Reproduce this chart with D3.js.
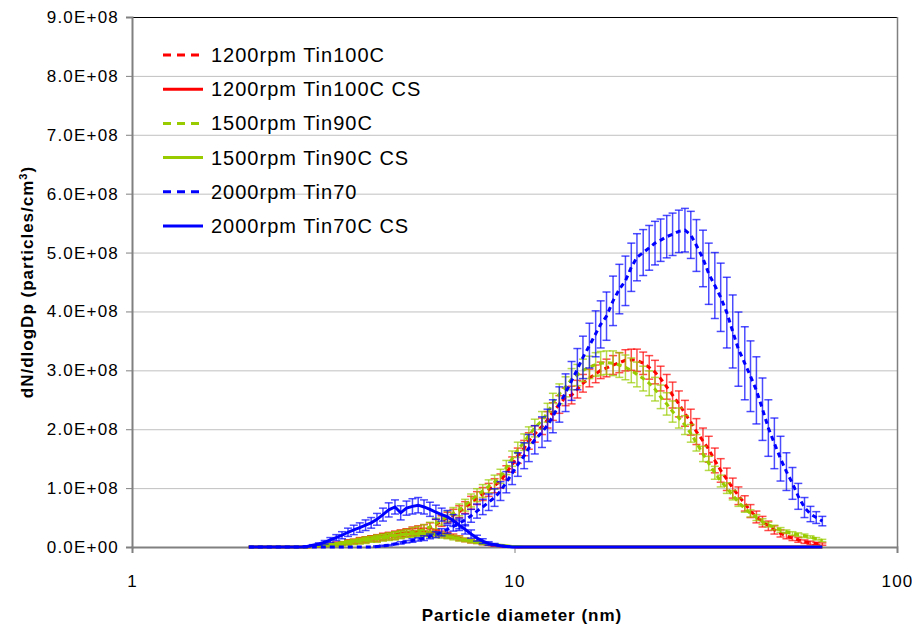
<!DOCTYPE html>
<html>
<head>
<meta charset="utf-8">
<script src="https://cdnjs.cloudflare.com/ajax/libs/d3/7.8.5/d3.min.js"></script>
<style>
    body { margin: 0; background: #fff; }
    #visual { width: 912px; height: 626px; }
    text { font-family: "Liberation Sans", Arial, sans-serif; fill: #000; }
</style>
</head>
<body>
<div id="visual"></div>
<script>
// SMPS channel mid-point diameters (nm)
var diameters = [
    2.02, 2.09, 2.16, 2.24, 2.32, 2.40, 2.49, 2.58, 2.67, 2.77,
    2.87, 2.97, 3.08, 3.19, 3.30, 3.42, 3.54, 3.67, 3.80, 3.94,
    4.08, 4.22, 4.37, 4.53, 4.69, 4.87, 5.04, 5.22, 5.41, 5.60,
    5.80, 6.01, 6.23, 6.45, 6.68, 6.92, 7.17, 7.43, 7.70, 7.98,
    8.26, 8.56, 8.87, 9.19, 9.52, 9.86, 10.2, 10.6, 10.9, 11.3,
    11.8, 12.2, 12.6, 13.1, 13.6, 14.1, 14.6, 15.1, 15.7, 16.3,
    16.8, 17.4, 18.1, 18.8, 19.5, 20.2, 20.9, 21.7, 22.5, 23.3,
    24.1, 25.0, 25.9, 26.9, 27.9, 28.9, 29.9, 31.1, 32.2, 33.4,
    34.6, 35.9, 37.2, 38.5, 40.0, 41.4, 42.9, 44.5, 46.1, 47.8,
    49.6, 51.4, 53.3, 55.2, 57.3, 59.4, 61.5, 63.8
];

// dN/dlogDp, in 1e6 particles/cm3
var tin100 = [
    0, 0, 0, 0, 0, 0, 0, 0, 0, 0,
    0, 1, 2, 3, 4, 5, 6, 8, 9, 11,
    12, 14, 15, 17, 18, 20, 22, 24, 26, 28,
    30, 33, 38, 44, 50, 54, 60, 67, 75, 83,
    90, 97, 104, 112, 126, 140, 155, 168, 180, 192,
    205, 216, 230, 242, 255, 258, 268, 278, 287, 294,
    300, 304, 309, 313, 317, 318, 317, 312, 305, 297,
    286, 272, 258, 243, 227, 212, 196, 180, 166, 147,
    130, 115, 100, 87, 74, 61, 51, 43, 36, 29,
    23, 19, 15, 12, 9, 7, 6, 5
];
var tin100Err = [
    0, 0, 0, 0, 0, 0, 0, 0, 0, 0,
    0, 1, 1, 2, 2, 3, 3, 4, 4, 5,
    5, 5, 6, 6, 6, 7, 7, 7, 8, 8,
    8, 8, 9, 9, 9, 10, 10, 10, 11, 11,
    11, 11, 12, 12, 12, 13, 13, 13, 14, 14,
    14, 14, 15, 15, 15, 15, 15, 15, 15, 15,
    14, 15, 16, 17, 18, 18, 19, 19, 20, 20,
    21, 21, 22, 22, 22, 22, 22, 22, 22, 21,
    20, 19, 17, 15, 13, 11, 10, 9, 8, 7,
    6, 5, 4, 4, 3, 3, 2, 2
];
var tin100CS = [
    0, 0, 0, 0, 0, 0, 0, 0, 0, 0,
    0, 1, 2, 3, 4, 6, 7, 9, 10, 12,
    13, 15, 16, 18, 20, 21, 23, 24, 25, 26,
    26, 25, 24, 22, 20, 18, 15, 12, 10, 8,
    6, 4, 3, 2, 1, 1, 0, 0, 0, 0,
    0, 0, 0, 0, 0, 0, 0, 0, 0, 0,
    0, 0, 0, 0, 0, 0, 0, 0, 0, 0,
    0, 0, 0, 0, 0, 0, 0, 0, 0, 0,
    0, 0, 0, 0, 0, 0, 0, 0, 0, 0,
    0, 0, 0, 0, 0, 0, 0, 0
];
var tin100CSErr = [
    0, 0, 0, 0, 0, 0, 0, 0, 0, 0,
    0, 1, 1, 1, 2, 2, 2, 3, 3, 3,
    4, 4, 4, 5, 5, 5, 5, 6, 6, 6,
    6, 6, 5, 5, 5, 4, 4, 3, 3, 2,
    2, 1, 1, 1, 0, 0, 0, 0, 0, 0,
    0, 0, 0, 0, 0, 0, 0, 0, 0, 0,
    0, 0, 0, 0, 0, 0, 0, 0, 0, 0,
    0, 0, 0, 0, 0, 0, 0, 0, 0, 0,
    0, 0, 0, 0, 0, 0, 0, 0, 0, 0,
    0, 0, 0, 0, 0, 0, 0, 0
];
var tin90 = [
    0, 0, 0, 0, 0, 0, 0, 0, 0, 0,
    0, 1, 2, 3, 3, 4, 5, 7, 8, 10,
    11, 13, 14, 16, 17, 19, 21, 23, 25, 27,
    30, 34, 40, 46, 52, 57, 63, 71, 79, 88,
    95, 103, 110, 120, 135, 150, 165, 178, 190, 202,
    215, 228, 245, 260, 272, 285, 292, 300, 305, 310,
    312, 313, 312, 309, 305, 300, 293, 286, 278, 268,
    255, 243, 230, 219, 207, 193, 177, 158, 142, 126,
    112, 100, 88, 76, 65, 57, 50, 43, 38, 33,
    29, 26, 23, 21, 19, 17, 14, 11
];
var tin90Err = [
    0, 0, 0, 0, 0, 0, 0, 0, 0, 0,
    0, 1, 1, 2, 2, 3, 3, 4, 4, 5,
    5, 5, 6, 6, 6, 7, 7, 7, 8, 8,
    8, 8, 9, 9, 9, 10, 10, 10, 11, 11,
    11, 11, 12, 12, 12, 13, 13, 14, 14, 15,
    15, 16, 16, 17, 17, 18, 18, 19, 19, 20,
    20, 20, 21, 21, 21, 21, 21, 21, 21, 20,
    20, 19, 18, 17, 16, 15, 14, 13, 12, 11,
    10, 9, 8, 7, 6, 6, 5, 5, 4, 4,
    4, 3, 3, 3, 3, 2, 2, 2
];
var tin90CS = [
    0, 0, 0, 0, 0, 0, 0, 0, 0, 0,
    0, 1, 2, 3, 4, 5, 7, 8, 10, 11,
    13, 14, 16, 17, 19, 20, 21, 22, 22, 23,
    23, 22, 21, 20, 18, 16, 14, 12, 10, 8,
    6, 5, 4, 3, 2, 1, 1, 0, 0, 0,
    0, 0, 0, 0, 0, 0, 0, 0, 0, 0,
    0, 0, 0, 0, 0, 0, 0, 0, 0, 0,
    0, 0, 0, 0, 0, 0, 0, 0, 0, 0,
    0, 0, 0, 0, 0, 0, 0, 0, 0, 0,
    0, 0, 0, 0, 0, 0, 0, 0
];
var tin90CSErr = [
    0, 0, 0, 0, 0, 0, 0, 0, 0, 0,
    0, 1, 1, 1, 2, 2, 2, 3, 3, 3,
    4, 4, 4, 4, 5, 5, 5, 5, 5, 5,
    5, 5, 5, 5, 4, 4, 4, 3, 3, 2,
    2, 1, 1, 1, 0, 0, 0, 0, 0, 0,
    0, 0, 0, 0, 0, 0, 0, 0, 0, 0,
    0, 0, 0, 0, 0, 0, 0, 0, 0, 0,
    0, 0, 0, 0, 0, 0, 0, 0, 0, 0,
    0, 0, 0, 0, 0, 0, 0, 0, 0, 0,
    0, 0, 0, 0, 0, 0, 0, 0
];
var tin70 = [
    0, 0, 0, 0, 0, 0, 0, 0, 0, 0,
    0, 0, 0, 0, 0, 0, 0, 0, 0, 0,
    0, 0, 1, 2, 3, 5, 7, 9, 11, 13,
    15, 18, 21, 25, 30, 35, 40, 46, 53, 61,
    68, 76, 84, 95, 110, 125, 140, 155, 168, 182,
    195, 207, 222, 242, 262, 282, 302, 322, 342, 362,
    378, 392, 418, 438, 452, 475, 492, 500, 508, 516,
    521, 527, 531, 536, 538, 530, 512, 490, 464, 444,
    424, 398, 366, 336, 312, 290, 266, 234, 202, 176,
    150, 128, 108, 86, 67, 56, 50, 44
];
var tin70Err = [
    0, 0, 0, 0, 0, 0, 0, 0, 0, 0,
    0, 0, 0, 0, 0, 0, 0, 0, 0, 0,
    0, 0, 1, 1, 1, 1, 2, 2, 3, 3,
    4, 4, 5, 6, 7, 8, 9, 10, 11, 12,
    13, 14, 15, 16, 18, 19, 20, 22, 23, 24,
    26, 27, 28, 30, 32, 33, 35, 36, 38, 39,
    40, 41, 42, 42, 42, 41, 40, 39, 38, 37,
    36, 36, 36, 36, 37, 40, 44, 48, 52, 56,
    58, 60, 62, 63, 62, 60, 57, 53, 48, 43,
    38, 32, 27, 22, 17, 13, 10, 8
];
var tin70CS = [
    0, 0, 0, 0, 0, 0, 0, 0, 0, 0,
    1, 3, 5, 8, 12, 16, 20, 25, 29, 33,
    37, 41, 47, 55, 63, 68, 58, 66, 69, 71,
    68, 64, 59, 55, 51, 45, 37, 30, 22, 15,
    10, 6, 4, 2, 1, 0, 0, 0, 0, 0,
    0, 0, 0, 0, 0, 0, 0, 0, 0, 0,
    0, 0, 0, 0, 0, 0, 0, 0, 0, 0,
    0, 0, 0, 0, 0, 0, 0, 0, 0, 0,
    0, 0, 0, 0, 0, 0, 0, 0, 0, 0,
    0, 0, 0, 0, 0, 0, 0, 0
];
var tin70CSErr = [
    0, 0, 0, 0, 0, 0, 0, 0, 0, 0,
    1, 1, 2, 3, 4, 5, 6, 7, 8, 8,
    9, 9, 10, 11, 12, 12, 12, 12, 13, 13,
    12, 12, 12, 11, 11, 10, 9, 8, 7, 5,
    4, 3, 2, 1, 1, 0, 0, 0, 0, 0,
    0, 0, 0, 0, 0, 0, 0, 0, 0, 0,
    0, 0, 0, 0, 0, 0, 0, 0, 0, 0,
    0, 0, 0, 0, 0, 0, 0, 0, 0, 0,
    0, 0, 0, 0, 0, 0, 0, 0, 0, 0,
    0, 0, 0, 0, 0, 0, 0, 0
];

var seriesNames = ['1200rpm Tin100C', '1200rpm Tin100C CS', '1500rpm Tin90C',
    '1500rpm Tin90C CS', '2000rpm Tin70', '2000rpm Tin70C CS'];
var seriesValues = [tin100, tin100CS, tin90, tin90CS, tin70, tin70CS];
var seriesErrors = [tin100Err, tin100CSErr, tin90Err, tin90CSErr, tin70Err, tin70CSErr];
var seriesColours = ['#ff0000', '#ff0000', '#99cc00', '#99cc00', '#0000ff', '#0000ff'];
var seriesDashed = [true, false, true, false, true, false];

var yTicks = [0, 1e8, 2e8, 3e8, 4e8, 5e8, 6e8, 7e8, 8e8, 9e8];
var xTicks = [1, 10, 100];

var width = 912, height = 626;
var margin = { top: 17, right: 15, bottom: 79, left: 132 };
var plotW = width - margin.left - margin.right;
var plotH = height - margin.top - margin.bottom;

var svg = d3.select('#visual')
    .append('svg')
    .attr('width', width)
    .attr('height', height)
    .append('g')
    .attr('transform', 'translate(' + margin.left + ',' + margin.top + ')');

var x_scale = d3.scaleLog().domain([1, 100]).range([0, plotW]);
var y_scale = d3.scaleLinear().domain([0, 9e8]).range([plotH, 0]);

function sciFormat(v) {
    if (v === 0) return '0.0E+00';
    var e = Math.floor(Math.log10(v) + 1e-9);
    var m = v / Math.pow(10, e);
    return m.toFixed(1) + 'E+' + (e < 10 ? '0' : '') + e;
}

// gridlines
svg.append('g')
    .attr('class', 'grid')
    .call(d3.axisLeft(y_scale).tickValues(yTicks).tickSize(-plotW).tickFormat(''))
    .call(function (g) {
        g.select('.domain').remove();
        g.selectAll('line').attr('stroke', '#c0c0c0').attr('stroke-width', 1);
    });

// plot frame top / right
svg.append('line').attr('x1', 0).attr('x2', plotW).attr('y1', 0.5).attr('y2', 0.5)
    .attr('stroke', '#000').attr('stroke-width', 1);
svg.append('line').attr('x1', plotW + 0.5).attr('x2', plotW + 0.5).attr('y1', 0).attr('y2', plotH)
    .attr('stroke', '#808080').attr('stroke-width', 1.5);

// y axis
svg.append('g')
    .attr('class', 'y axis')
    .call(d3.axisLeft(y_scale).tickValues(yTicks).tickSize(6).tickFormat(sciFormat))
    .call(function (g) {
        g.select('.domain').attr('stroke', '#808080').attr('stroke-width', 2);
        g.selectAll('.tick line').attr('stroke', '#808080');
        g.selectAll('.tick text')
            .attr('x', -13)
            .attr('font-size', '17px')
            .style('letter-spacing', '1.2px')
            .style('font-family', '"Liberation Sans", Arial, sans-serif');
    });

// x axis
svg.append('g')
    .attr('class', 'x axis')
    .attr('transform', 'translate(0,' + plotH + ')')
    .call(d3.axisBottom(x_scale).tickValues(xTicks).tickSize(6).tickFormat(d3.format('d')))
    .call(function (g) {
        g.select('.domain').attr('stroke', '#808080').attr('stroke-width', 2);
        g.selectAll('.tick line').attr('stroke', '#808080');
        g.selectAll('.tick text')
            .attr('y', 34)
            .attr('dy', '0.35em')
            .attr('font-size', '17px')
            .style('letter-spacing', '1.2px')
            .style('font-family', '"Liberation Sans", Arial, sans-serif');
    });

// axis titles
svg.append('text')
    .attr('x', 522 - margin.left)
    .attr('y', 615 - margin.top)
    .attr('dy', '0.35em')
    .attr('text-anchor', 'middle')
    .attr('font-size', '17px')
    .attr('font-weight', 'bold')
    .style('letter-spacing', '1px')
    .text('Particle diameter (nm)');

var yTitle = svg.append('text')
    .attr('transform', 'translate(' + (27 - margin.left) + ',' + (plotH / 2) + ') rotate(-90)')
    .attr('dy', '0.35em')
    .attr('text-anchor', 'middle')
    .attr('font-size', '17px')
    .attr('font-weight', 'bold')
    .style('letter-spacing', '1px');
yTitle.append('tspan').text('dN/dlogDp (particles/cm');
yTitle.append('tspan').attr('baseline-shift', 'super').attr('font-size', '11px').text('3');
yTitle.append('tspan').text(')');

// series: error bars first, line on top
var line = d3.line()
    .x(function (d) { return x_scale(d.d); })
    .y(function (d) { return y_scale(d.v); });

seriesNames.forEach(function (name, i) {
    var pts = diameters.map(function (d, j) {
        return { d: d, v: seriesValues[i][j] * 1e6, e: seriesErrors[i][j] * 1e6 };
    });
    var g = svg.append('g').attr('class', 'series');

    var bars = g.selectAll('.err')
        .data(pts.filter(function (p) { return p.e > 0; }))
        .enter().append('g')
        .attr('class', 'err')
        .attr('stroke', seriesColours[i])
        .attr('stroke-opacity', 0.7)
        .attr('stroke-width', 1.5);
    bars.append('line')
        .attr('x1', function (p) { return x_scale(p.d); })
        .attr('x2', function (p) { return x_scale(p.d); })
        .attr('y1', function (p) { return y_scale(p.v - p.e); })
        .attr('y2', function (p) { return y_scale(p.v + p.e); });
    bars.append('line')
        .attr('x1', function (p) { return x_scale(p.d) - 4; })
        .attr('x2', function (p) { return x_scale(p.d) + 4; })
        .attr('y1', function (p) { return y_scale(p.v + p.e); })
        .attr('y2', function (p) { return y_scale(p.v + p.e); });
    bars.append('line')
        .attr('x1', function (p) { return x_scale(p.d) - 4; })
        .attr('x2', function (p) { return x_scale(p.d) + 4; })
        .attr('y1', function (p) { return y_scale(p.v - p.e); })
        .attr('y2', function (p) { return y_scale(p.v - p.e); });

    g.append('path')
        .datum(pts)
        .attr('d', line)
        .attr('fill', 'none')
        .attr('stroke', seriesColours[i])
        .attr('stroke-width', 3)
        .attr('stroke-dasharray', seriesDashed[i] ? '5,4' : null);
});

// legend
var legend = svg.append('g')
    .attr('class', 'legend')
    .attr('transform', 'translate(' + (163 - margin.left) + ',' + (55 - margin.top) + ')');

var items = legend.selectAll('.item')
    .data(seriesNames)
    .enter().append('g')
    .attr('class', 'item')
    .attr('transform', function (d, i) { return 'translate(0,' + (i * 34.2) + ')'; });

items.append('line')
    .attr('x1', 0).attr('x2', 40)
    .attr('y1', 0).attr('y2', 0)
    .attr('stroke', function (d, i) { return seriesColours[i]; })
    .attr('stroke-width', 3)
    .attr('stroke-dasharray', function (d, i) { return seriesDashed[i] ? '8,6' : null; });

items.append('text')
    .attr('x', 48)
    .attr('dy', '0.35em')
    .attr('font-size', '20px')
    .style('letter-spacing', '1px')
    .text(function (d) { return d; });
</script>
</body>
</html>
